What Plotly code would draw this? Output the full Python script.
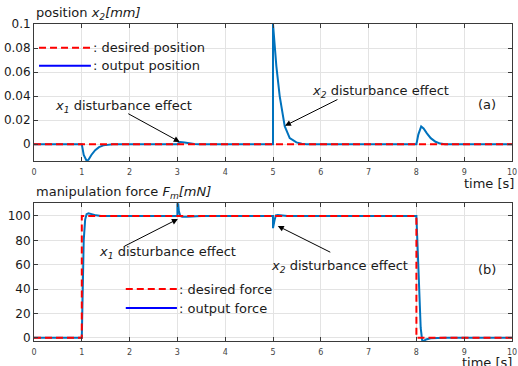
import plotly.graph_objects as go

# ---------------- data ----------------
pos_des_t = [0, 10]
pos_des_y = [0, 0]

pos_out_t = [0, 1.0, 1.04, 1.1, 1.14, 1.2, 1.28, 1.36, 1.45, 1.55, 1.65,
             3.0, 3.06, 3.15, 3.25, 3.35, 3.45,
             5.0, 5.0, 5.07, 5.14, 5.245, 5.35, 5.49, 5.6, 5.7,
             8.0, 8.04, 8.1, 8.15, 8.22, 8.3, 8.4, 8.5, 8.6, 10]
pos_out_y = [0, 0, -0.009, -0.0138, -0.013, -0.009, -0.005, -0.0025, -0.001, -0.0003, 0,
             0, 0.0017, 0.0013, 0.0006, 0.0002, 0,
             0, 0.1, 0.065, 0.04, 0.015, 0.005, 0.0015, 0.0003, 0,
             0, 0.008, 0.0147, 0.013, 0.009, 0.005, 0.002, 0.0005, 0, 0]

force_des_t = [0, 1, 1, 8, 8, 10]
force_des_y = [0, 0, 100, 100, 0, 0]

force_out_t = [0, 1.0, 1.02, 1.04, 1.07, 1.1, 1.14, 1.2, 1.3, 1.4,
               3.0, 3.0, 3.03, 3.06, 3.1, 3.2, 3.35, 3.5,
               5.0, 5.0, 5.03, 5.06, 5.1, 5.2, 5.3,
               8.0, 8.03, 8.06, 8.09, 8.12, 8.15, 8.2, 8.3, 8.45, 8.6, 10]
force_out_y = [0, 0, 40, 80, 97, 101.5, 102.2, 101.5, 100.5, 100,
               100, 118, 104, 100, 99.4, 99.3, 99.6, 100,
               100, 90, 96, 100.5, 100.8, 100.2, 100,
               100, 70, 35, 8, -2, -2.7, -1.5, -0.5, -0.2, 0, 0]

x_ticks = [0, 1, 2, 3, 4, 5, 6, 7, 8, 9, 10]
pos_ticks = [0, 0.02, 0.04, 0.06, 0.08, 0.1]
pos_tick_text = ["0", "0.02", "0.04", "0.06", "0.08", "0.1"]
force_ticks = [0, 20, 40, 60, 80, 100]

# ---------------- styles ----------------
FONT = "DejaVu Sans"
BLUE = "#0072BD"
LEG_BLUE = "#0000FF"
RED = "#FF0000"
DASH = "7px,4px"
FRAME = "#3a3a3a"
GRID = "#e3e3e3"

fig = go.Figure()

fig.add_trace(go.Scatter(x=pos_out_t, y=pos_out_y, mode="lines",
                         line=dict(color=BLUE, width=2), xaxis="x", yaxis="y"))
fig.add_trace(go.Scatter(x=pos_des_t, y=pos_des_y, mode="lines",
                         line=dict(color=RED, width=2, dash=DASH), xaxis="x", yaxis="y"))
fig.add_trace(go.Scatter(x=force_out_t, y=force_out_y, mode="lines",
                         line=dict(color=BLUE, width=2), xaxis="x2", yaxis="y2"))
fig.add_trace(go.Scatter(x=force_des_t, y=force_des_y, mode="lines",
                         line=dict(color=RED, width=2, dash=DASH), xaxis="x2", yaxis="y2"))

H = 317.0
top_dom = [(341 - 161) / H, 1.0]
bot_dom = [0.0, (341 - 203.3) / H]

xcommon = dict(range=[0, 10], tickvals=x_ticks, showgrid=True, gridcolor=GRID, gridwidth=1,
               zeroline=False, showline=True, linecolor=FRAME, linewidth=1, mirror="ticks",
               ticks="inside", ticklen=4, tickcolor=FRAME, automargin=False,
               ticklabelstandoff=3,
               tickfont=dict(family=FONT, size=8, color="#444444"))
ycommon = dict(showgrid=True, gridcolor=GRID, gridwidth=1, zeroline=False,
               showline=True, linecolor=FRAME, linewidth=1, mirror="ticks",
               ticks="inside", ticklen=4, tickcolor=FRAME, automargin=False,
               tickfont=dict(family=FONT, size=12, color="#1a1a1a"), ticklabelstandoff=0)

fig.update_layout(
    width=518, height=366,
    margin=dict(l=34, r=6, t=24, b=25, autoexpand=False),
    paper_bgcolor="white", plot_bgcolor="white",
    showlegend=False,
    font=dict(family=FONT, size=13, color="#1a1a1a"),
    xaxis=dict(domain=[0, 1], anchor="y", **xcommon),
    yaxis=dict(domain=top_dom, anchor="x", range=[-0.014, 0.1], tickvals=pos_ticks,
               ticktext=pos_tick_text, **ycommon),
    xaxis2=dict(domain=[0, 1], anchor="y2", **xcommon),
    yaxis2=dict(domain=bot_dom, anchor="x2", range=[-2.7, 110.4], tickvals=force_ticks,
                **ycommon),
)

# legend sample lines
shapes = [
    dict(type="line", xref="x", yref="y", x0=0.105, x1=1.19, y0=0.0803, y1=0.0803,
         line=dict(color=RED, width=2, dash=DASH)),
    dict(type="line", xref="x", yref="y", x0=0.105, x1=1.19, y0=0.0653, y1=0.0653,
         line=dict(color=LEG_BLUE, width=2)),
    dict(type="line", xref="x2", yref="y2", x0=1.92, x1=2.99, y0=40, y1=40,
         line=dict(color=RED, width=2, dash=DASH)),
    dict(type="line", xref="x2", yref="y2", x0=1.92, x1=2.99, y0=24.4, y1=24.4,
         line=dict(color=LEG_BLUE, width=2)),
]
fig.update_layout(shapes=shapes)

ann = []
def txt(text, x, y, xref, yref, xanchor="center", yanchor="middle", size=13, xshift=0):
    ann.append(dict(text=text, x=x, y=y, xref=xref, yref=yref, xanchor=xanchor,
                    yanchor=yanchor, showarrow=False, xshift=xshift,
                    font=dict(family=FONT, size=size, color="#1a1a1a")))

def arrow(x, y, ax, ay, xref, yref):
    ann.append(dict(text="", x=x, y=y, ax=ax, ay=ay, xref=xref, yref=yref,
                    showarrow=True, arrowhead=2, arrowsize=1.2, arrowwidth=1,
                    arrowcolor="black"))

# titles
txt("position <i>x<sub>2</sub>[mm]</i>", 0, 1.0, "paper", "paper", "left", "bottom")
txt("manipulation force <i>F<sub>m</sub>[mN]</i>", 0, bot_dom[1], "paper", "paper", "left", "bottom")
txt("time [s]", 1.0, (341 - 183) / H, "paper", "paper", "right", "middle", xshift=4)
txt("time [s]", 1.0, (341 - 362) / H, "paper", "paper", "right", "middle", xshift=2)

# legends text
txt(": desired position", 1.19, 0.0803, "x", "y", "left")
txt(": output position", 1.19, 0.0653, "x", "y", "left")
txt(": desired force", 2.99, 40, "x2", "y2", "left")
txt(": output force", 2.99, 24.4, "x2", "y2", "left")

# disturbance annotations
txt("<i>x<sub>1</sub></i> disturbance effect", 1.87, 0.0311, "x", "y")
arrow(3.05, 0.0019, -53, -29, "x", "y")
txt("<i>x<sub>2</sub></i> disturbance effect", 7.255, 0.0436, "x", "y")
arrow(5.25, 0.0153, 54, -27, "x", "y")
txt("(a)", 9.47, 0.0328, "x", "y")

txt("<i>x<sub>1</sub></i> disturbance effect", 2.79, 70.4, "x2", "y2")
arrow(3.01, 97.5, -55, 28, "x2", "y2")
txt("<i>x<sub>2</sub></i> disturbance effect", 6.39, 58.1, "x2", "y2")
arrow(5.1, 91.8, 54, 27, "x2", "y2")
txt("(b)", 9.47, 56.4, "x2", "y2")

fig.update_layout(annotations=ann)

fig.write_html("out.html", config={"displayModeBar": False},
               post_script="document.body.style.margin='0';document.body.style.overflow='hidden';")
